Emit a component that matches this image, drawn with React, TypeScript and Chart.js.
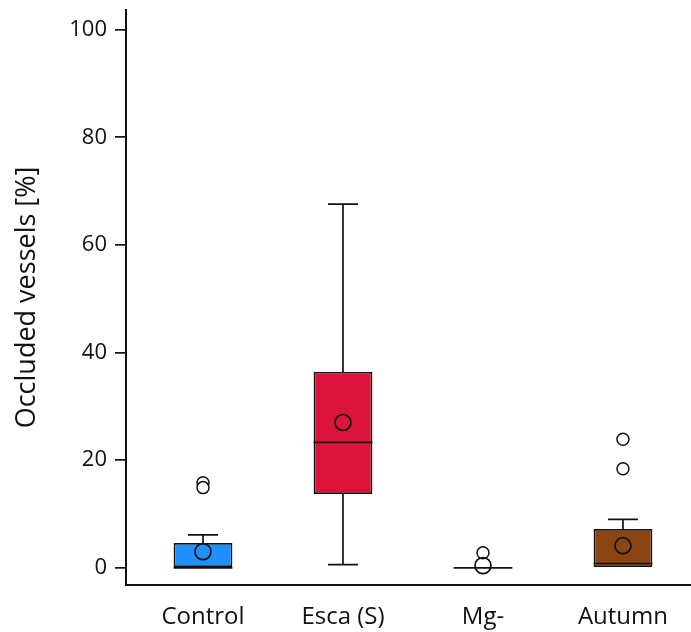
import React, { useEffect, useRef } from 'react';
import { Chart, registerables } from 'chart.js';

Chart.register(...registerables);

const categories = ['Control', 'Esca (S)', 'Mg-', 'Autumn'];
const boxColors = ['#1E90FF', '#DC143C', '#1E90FF', '#8B4513'];
const q1 = [0, 13.7, 0, 0];
const q3 = [4.6, 36.4, 0, 7.2];
const medians = [0, 23.3, 0, 0.8];
const whiskerLow = [0, 0.6, 0, 0];
const whiskerHigh = [6.1, 67.6, 0, 9.0];
const means = [3.0, 27.0, 0.4, 4.1];
const outlierGroup = [0, 0, 2, 3, 3];
const outlierValues = [15.8, 14.9, 2.8, 23.9, 18.4];
const yTicks = [0, 20, 40, 60, 80, 100];
const yTitle = 'Occluded vessels [%]';

const INK = '#111111';
const FONT = "'Open Sans', 'Noto Sans', sans-serif";

const boxParts = {
  id: 'boxParts',
  beforeDatasetsDraw(chart: any) {
    const { ctx, scales } = chart;
    const x = scales.x;
    const y = scales.y;
    ctx.save();
    ctx.strokeStyle = INK;
    ctx.lineWidth = 1.7;
    categories.forEach((_, i) => {
      const cx = x.getPixelForValue(i);
      const half = x.getPixelForValue(i + 0.107) - cx;
      const draw = (from: number, to: number) => {
        if (from === to) return;
        ctx.beginPath();
        ctx.moveTo(cx, y.getPixelForValue(from));
        ctx.lineTo(cx, y.getPixelForValue(to));
        ctx.moveTo(cx - half, y.getPixelForValue(to));
        ctx.lineTo(cx + half, y.getPixelForValue(to));
        ctx.stroke();
      };
      draw(q3[i], whiskerHigh[i]);
      draw(q1[i], whiskerLow[i]);
    });
    ctx.restore();
  },
  afterDatasetDraw(chart: any, args: any) {
    if (args.meta.type !== 'bar') return;
    const { ctx, scales } = chart;
    const y = scales.y;
    ctx.save();
    ctx.strokeStyle = INK;
    ctx.lineWidth = 1.7;
    args.meta.data.forEach((el: any, i: number) => {
      const py = y.getPixelForValue(medians[i]);
      ctx.beginPath();
      ctx.moveTo(el.x - el.width / 2, py);
      ctx.lineTo(el.x + el.width / 2, py);
      ctx.stroke();
    });
    ctx.restore();
  },
};

export default function App() {
  const ref = useRef<HTMLCanvasElement>(null);
  useEffect(() => {
    document.body.style.margin = '0';
    const canvas = ref.current;
    if (!canvas) return;
    const chart = new Chart(canvas, {
      type: 'bar',
      data: {
        datasets: [
          {
            type: 'scatter',
            order: 1,
            data: means.map((v, i) => ({ x: i, y: v })),
            pointRadius: 8,
            pointBackgroundColor: 'rgba(0,0,0,0)',
            pointBorderColor: INK,
            pointBorderWidth: 1.7,
            showLine: false,
          } as any,
          {
            type: 'scatter',
            order: 2,
            data: outlierValues.map((v, k) => ({ x: outlierGroup[k], y: v })),
            pointRadius: 6,
            pointBackgroundColor: '#ffffff',
            pointBorderColor: INK,
            pointBorderWidth: 1.5,
            showLine: false,
          } as any,
          {
            type: 'bar',
            order: 3,
            data: categories.map((_, i) => ({ x: i, y: [q1[i], q3[i]] })),
            backgroundColor: boxColors,
            borderColor: INK,
            borderWidth: 1.7,
            borderSkipped: false,
            categoryPercentage: 1,
            barPercentage: 0.42,
          } as any,
        ],
      },
      options: {
        responsive: false,
        animation: false,
        devicePixelRatio: 1,
        layout: { autoPadding: false, padding: 0 },
        plugins: { legend: { display: false }, tooltip: { enabled: false } },
        scales: {
          x: {
            type: 'linear',
            offset: false,
            min: -0.55,
            max: 3.486,
            afterBuildTicks: (s: any) => {
              s.ticks = categories.map((_, i) => ({ value: i }));
            },
            afterFit: (s: any) => {
              s.height = 47;
              s.paddingLeft = 0;
              s.paddingRight = 0;
            },
            grid: { display: false, drawTicks: false },
            border: { display: true, color: INK, width: 2 },
            ticks: {
              autoSkip: false,
              maxRotation: 0,
              padding: 18,
              color: INK,
              font: { family: FONT, size: 24 },
              callback: (v: any) => categories[v as number],
            },
          },
          y: {
            type: 'linear',
            min: -3.2,
            max: 103.66,
            afterBuildTicks: (s: any) => {
              s.ticks = yTicks.map((v) => ({ value: v }));
            },
            afterFit: (s: any) => {
              s.width = 126;
              s.paddingTop = 10;
              s.paddingBottom = 0;
            },
            grid: {
              display: true,
              drawOnChartArea: false,
              drawTicks: true,
              tickLength: 11,
              color: INK,
              lineWidth: 1.7,
            },
            border: { display: true, color: INK, width: 2 },
            ticks: {
              padding: 8,
              color: INK,
              font: { family: FONT, size: 22 },
            },
            title: {
              display: true,
              text: yTitle,
              color: INK,
              font: { family: FONT, size: 27 },
              padding: { top: 11, bottom: 0 },
            },
          },
        },
      },
      plugins: [boxParts],
    });
    return () => chart.destroy();
  }, []);
  return (
    <div style={{ width: 691, height: 632 }}>
      <canvas ref={ref} width={691} height={632} style={{ display: 'block' }} />
    </div>
  );
}
